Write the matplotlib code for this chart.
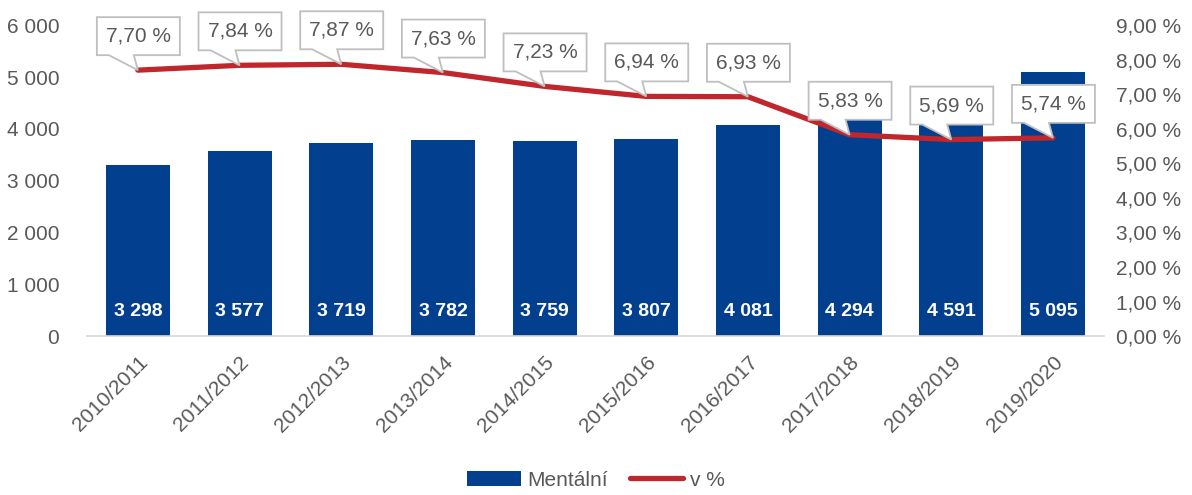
import matplotlib
matplotlib.use("Agg")
import matplotlib.pyplot as plt
from matplotlib.patches import Polygon
from matplotlib.transforms import ScaledTranslation
from matplotlib.ticker import FuncFormatter

plt.rcParams['font.family'] = ['Liberation Sans', 'DejaVu Sans']

years = ["2010/2011", "2011/2012", "2012/2013", "2013/2014", "2014/2015",
         "2015/2016", "2016/2017", "2017/2018", "2018/2019", "2019/2020"]
mentalni = [3298, 3577, 3719, 3782, 3759, 3807, 4081, 4294, 4591, 5095]
podil = [7.70, 7.84, 7.87, 7.63, 7.23, 6.94, 6.93, 5.83, 5.69, 5.74]

blue = "#023f8f"
red = "#c0272d"
grey = "#595959"

fig = plt.figure(figsize=(11.92, 4.95), dpi=100)
ax = fig.add_axes([0.073, 0.321, 0.853, 0.628])
ax2 = ax.twinx()

x = list(range(len(years)))
bars = ax.bar(x, mentalni, width=0.63, color=blue, label="Mentální", zorder=2)
for xi, v in zip(x, mentalni):
    ax.text(xi, 470, f"{v:,}".replace(",", " "), color="white", fontsize=14,
            fontweight="bold", ha="center", va="center", zorder=3)

ax.set_xlim(-0.5, len(years) - 0.5)
ax.set_ylim(0, 6000)
ax.set_yticks(range(0, 6001, 1000))
ax.yaxis.set_major_formatter(FuncFormatter(lambda v, p: f"{int(v):,}".replace(",", " ")))
ax.set_xticks(x)
ax.set_xticklabels(years, rotation=45, ha="right", rotation_mode="anchor")
ax.tick_params(axis="both", length=0, labelsize=15, colors=grey)
ax.tick_params(axis="y", pad=20)
ax.tick_params(axis="x", pad=12)

line, = ax2.plot(x, podil, color=red, lw=3.8, solid_capstyle="round", label="v %", zorder=4)
ax2.set_ylim(0, 9)
ax2.set_yticks(range(0, 10))
ax2.yaxis.set_major_formatter(FuncFormatter(lambda v, p: f"{v:.2f} %".replace(".", ",")))
ax2.tick_params(axis="y", length=0, labelsize=15, colors=grey, pad=9)

for a in (ax, ax2):
    for s in a.spines.values():
        s.set_visible(False)
ax.spines["bottom"].set_visible(True)
ax.spines["bottom"].set_color("#d9d9d9")
ax.spines["bottom"].set_linewidth(1.2)

# callouts above the line points (shape in pixels, dpi 100)
shape = [(-41, 15), (-29, 15), (0, 0), (-4, 15), (42, 15), (42, 53), (-41, 53)]
shape = [(px / 100, py / 100) for px, py in shape]
for xi, v in zip(x, podil):
    tr = fig.dpi_scale_trans + ScaledTranslation(xi, v, ax2.transData)
    ax2.add_patch(Polygon(shape, closed=True, transform=tr, facecolor="white",
                          edgecolor="#bfbfbf", lw=1.3, zorder=5, clip_on=False))
    ax2.annotate(f"{v:.2f} %".replace(".", ","), (xi, v), xytext=(0.5 * 0.72, 34 * 0.72),
                 textcoords="offset points", ha="center", va="center",
                 fontsize=15, color=grey, zorder=6)

fig.legend(handles=[bars, line], loc="center", bbox_to_anchor=(0.5, 0.03), ncol=2,
           frameon=False, fontsize=15, handlelength=2.55, columnspacing=1.1,
           handletextpad=0.3, labelcolor=grey)

fig.savefig("out.png", dpi=100)
